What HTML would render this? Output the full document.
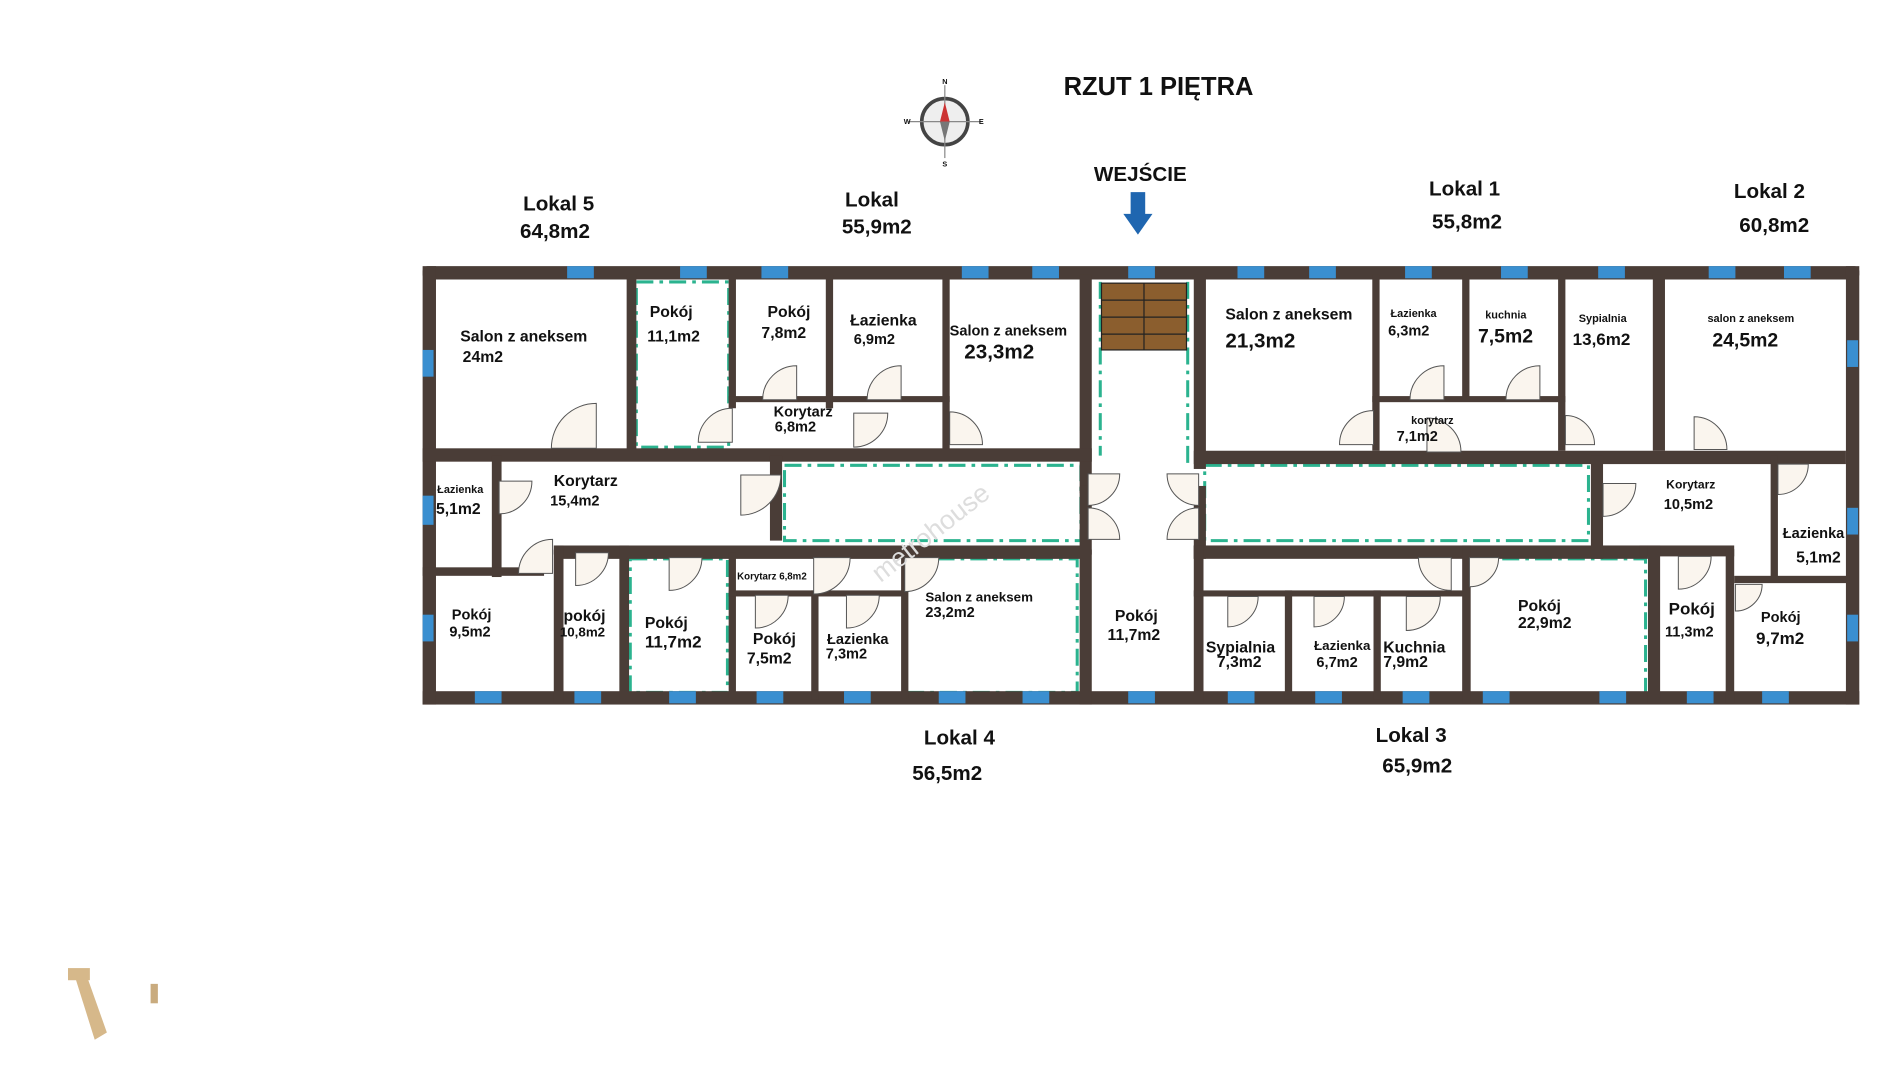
<!DOCTYPE html>
<html><head><meta charset="utf-8"><style>
html,body{margin:0;padding:0;background:#fff;}
svg{display:block;}
text{font-family:"Liberation Sans",sans-serif;font-weight:bold;fill:#111;}
</style></head><body>
<svg width="1886" height="1080" viewBox="0 0 1553 889" xmlns="http://www.w3.org/2000/svg">
<defs>
<path id="d" d="M0 0 V-1 A1 1 0 0 1 1 0 Z" fill="#faf5ee" stroke="#555" stroke-width="1" vector-effect="non-scaling-stroke"/>
</defs>
<text x="954" y="78" font-size="21" text-anchor="middle">RZUT 1 PIĘTRA</text>
<g transform="translate(778,100)">
<circle r="19" fill="#eee" stroke="#444" stroke-width="3"/>
<line x1="0" y1="-30" x2="0" y2="30" stroke="#888"/><line x1="-30" y1="0" x2="30" y2="0" stroke="#888"/>
<polygon points="0,-16 -4,0 4,0" fill="#c33"/><polygon points="0,16 -4,0 4,0" fill="#777"/>
<text y="-31" font-size="6" text-anchor="middle">N</text><text y="37" font-size="6" text-anchor="middle">S</text>
<text x="-31" y="2" font-size="6" text-anchor="middle">W</text><text x="30" y="2" font-size="6" text-anchor="middle">E</text>
</g>
<text x="460" y="173" font-size="17" text-anchor="middle">Lokal 5</text>
<text x="457" y="196" font-size="17" text-anchor="middle">64,8m2</text>
<text x="718" y="170" font-size="17" text-anchor="middle">Lokal</text>
<text x="722" y="192" font-size="17" text-anchor="middle">55,9m2</text>
<text x="939" y="149" font-size="17" text-anchor="middle">WEJŚCIE</text>
<polygon points="931,158 943,158 943,176 949,176 937,193 925,176 931,176" fill="#1f66b0"/>
<text x="1206" y="161" font-size="17" text-anchor="middle">Lokal 1</text>
<text x="1208" y="188" font-size="17" text-anchor="middle">55,8m2</text>
<text x="1457" y="163" font-size="17" text-anchor="middle">Lokal 2</text>
<text x="1461" y="191" font-size="17" text-anchor="middle">60,8m2</text>
<text x="790" y="613" font-size="17" text-anchor="middle">Lokal 4</text>
<text x="780" y="642" font-size="17" text-anchor="middle">56,5m2</text>
<text x="1162" y="611" font-size="17" text-anchor="middle">Lokal 3</text>
<text x="1167" y="636" font-size="17" text-anchor="middle">65,9m2</text>

<g fill="none" stroke="#2bb38f" stroke-width="2.5" stroke-dasharray="14,5,3,5">
<rect x="524" y="232" width="76" height="136"/>
<rect x="646" y="383" width="244" height="62"/>
<rect x="992" y="383" width="316" height="62"/>
<polyline points="906,232 906,375"/><polyline points="978,232 978,382"/>
<rect x="519" y="460" width="80" height="110"/>
<rect x="745" y="460" width="142" height="110"/>
<polyline points="1210,460 1355,460 1355,570"/>
</g>
<rect x="907" y="233" width="70" height="55" fill="#8b5e2e" stroke="#222"/>
<g stroke="#222" stroke-width="1"><line x1="942" y1="233" x2="942" y2="288"/><line x1="907" y1="247" x2="977" y2="247"/><line x1="907" y1="261" x2="977" y2="261"/><line x1="907" y1="275" x2="977" y2="275"/></g>

<g fill="#4a3d37">
<rect x="348" y="219" width="1183" height="11" rx="4"/>
<rect x="348" y="569" width="1183" height="11"/>
<rect x="348" y="219" width="11" height="361"/>
<rect x="1520" y="219" width="11" height="361"/>
<rect x="516" y="226" width="8" height="150"/>
<rect x="600" y="226" width="6" height="110"/>
<rect x="680" y="226" width="6" height="110"/>
<rect x="776" y="226" width="6" height="145"/>
<rect x="600" y="326" width="182" height="5"/>
<rect x="889" y="226" width="10" height="180"/>
<rect x="983" y="226" width="10" height="160"/>
<rect x="1130" y="226" width="6" height="145"/>
<rect x="1204" y="226" width="6" height="104"/>
<rect x="1283" y="226" width="6" height="145"/>
<rect x="1361" y="226" width="10" height="145"/>
<rect x="1130" y="326" width="159" height="5"/>
<rect x="348" y="369" width="551" height="11"/>
<rect x="983" y="371" width="537" height="11"/>
<rect x="405" y="375" width="8" height="100"/>
<rect x="348" y="467" width="100" height="7"/>
<rect x="634" y="375" width="10" height="70"/>
<rect x="456" y="449" width="443" height="11" rx="4"/>
<rect x="889" y="400" width="10" height="180"/>
<rect x="983" y="400" width="10" height="60"/>
<rect x="983" y="449" width="374" height="11"/>
<rect x="1310" y="375" width="10" height="85"/>
<rect x="1350" y="449" width="78" height="9"/>
<rect x="1458" y="375" width="6" height="100"/>
<rect x="1428" y="474" width="95" height="6"/>
<rect x="456" y="449" width="8" height="130"/>
<rect x="510" y="449" width="8" height="130"/>
<rect x="600" y="455" width="6" height="120"/>
<rect x="600" y="486" width="145" height="5"/>
<rect x="668" y="486" width="6" height="90"/>
<rect x="742" y="455" width="6" height="120"/>
<rect x="983" y="449" width="8" height="130"/>
<rect x="983" y="486" width="225" height="5"/>
<rect x="1058" y="486" width="6" height="90"/>
<rect x="1131" y="486" width="6" height="90"/>
<rect x="1204" y="449" width="7" height="130"/>
<rect x="1357" y="449" width="10" height="130"/>
<rect x="1421" y="452" width="7" height="127"/>
</g>

<g fill="#3a8fd0">
<rect x="467" y="219" width="22" height="10"/><rect x="560" y="219" width="22" height="10"/>
<rect x="627" y="219" width="22" height="10"/><rect x="792" y="219" width="22" height="10"/>
<rect x="850" y="219" width="22" height="10"/><rect x="929" y="219" width="22" height="10"/>
<rect x="1019" y="219" width="22" height="10"/><rect x="1078" y="219" width="22" height="10"/>
<rect x="1157" y="219" width="22" height="10"/><rect x="1236" y="219" width="22" height="10"/>
<rect x="1316" y="219" width="22" height="10"/><rect x="1407" y="219" width="22" height="10"/>
<rect x="1469" y="219" width="22" height="10"/>
<rect x="391" y="569" width="22" height="10"/><rect x="473" y="569" width="22" height="10"/>
<rect x="551" y="569" width="22" height="10"/><rect x="623" y="569" width="22" height="10"/>
<rect x="695" y="569" width="22" height="10"/><rect x="773" y="569" width="22" height="10"/>
<rect x="842" y="569" width="22" height="10"/><rect x="929" y="569" width="22" height="10"/>
<rect x="1011" y="569" width="22" height="10"/><rect x="1083" y="569" width="22" height="10"/>
<rect x="1155" y="569" width="22" height="10"/><rect x="1221" y="569" width="22" height="10"/>
<rect x="1317" y="569" width="22" height="10"/><rect x="1389" y="569" width="22" height="10"/>
<rect x="1451" y="569" width="22" height="10"/>
<rect x="348" y="288" width="9" height="22"/><rect x="348" y="408" width="9" height="24"/>
<rect x="348" y="506" width="9" height="22"/>
<rect x="1521" y="280" width="9" height="22"/><rect x="1521" y="418" width="9" height="22"/>
<rect x="1521" y="506" width="9" height="22"/>
</g>

<use href="#d" transform="translate(491,369) scale(-37,37)"/>
<use href="#d" transform="translate(603,364) scale(-28,28)"/>
<use href="#d" transform="translate(656,329) scale(-28,28)"/>
<use href="#d" transform="translate(742,329) scale(-28,28)"/>
<use href="#d" transform="translate(703,340) scale(28,-28)"/>
<use href="#d" transform="translate(782,366) scale(27,27)"/>
<use href="#d" transform="translate(1131,366) scale(-28,28)"/>
<use href="#d" transform="translate(1189,329) scale(-28,28)"/>
<use href="#d" transform="translate(1268,329) scale(-28,28)"/>
<use href="#d" transform="translate(1175,372) scale(28,28)"/>
<use href="#d" transform="translate(1289,366) scale(24,24)"/>
<use href="#d" transform="translate(1395,370) scale(27,27)"/>
<use href="#d" transform="translate(411,396) scale(27,-27)"/>
<use href="#d" transform="translate(610,391) scale(33,-33)"/>
<use href="#d" transform="translate(1320,398) scale(27,-27)"/>
<use href="#d" transform="translate(1464,382) scale(25,-25)"/>
<use href="#d" transform="translate(455,472) scale(-28,28)"/>
<use href="#d" transform="translate(474,455) scale(27,-27)"/>
<use href="#d" transform="translate(551,459) scale(27,-27)"/>
<use href="#d" transform="translate(622,490) scale(27,-27)"/>
<use href="#d" transform="translate(670,459) scale(30,-30)"/>
<use href="#d" transform="translate(697,490) scale(27,-27)"/>
<use href="#d" transform="translate(745,459) scale(28,-28)"/>
<use href="#d" transform="translate(1011,491) scale(25,-25)"/>
<use href="#d" transform="translate(1082,491) scale(25,-25)"/>
<use href="#d" transform="translate(1158,491) scale(28,-28)"/>
<use href="#d" transform="translate(1195,459) scale(-27,-27)"/>
<use href="#d" transform="translate(1210,459) scale(24,-24)"/>
<use href="#d" transform="translate(1382,458) scale(27,-27)"/>
<use href="#d" transform="translate(1429,481) scale(22,-22)"/>
<use href="#d" transform="translate(896,390) scale(26,-26)"/>
<use href="#d" transform="translate(896,444) scale(26,26)"/>
<use href="#d" transform="translate(987,390) scale(-26,-26)"/>
<use href="#d" transform="translate(987,444) scale(-26,26)"/>

<g font-size="13">
<text x="379" y="281">Salon z aneksem</text><text x="381" y="298">24m2</text>
<text x="535" y="261">Pokój</text><text x="533" y="281">11,1m2</text>
<text x="632" y="261">Pokój</text><text x="627" y="278">7,8m2</text>
<text x="700" y="268">Łazienka</text><text x="703" y="283" font-size="12">6,9m2</text>
<text x="782" y="276" font-size="12">Salon z aneksem</text><text x="794" y="295" font-size="17">23,3m2</text>
<text x="637" y="343" font-size="12">Korytarz</text><text x="638" y="355" font-size="12">6,8m2</text>
<text x="1009" y="263">Salon z aneksem</text><text x="1009" y="286" font-size="17">21,3m2</text>
<text x="1145" y="261" font-size="9">Łazienka</text><text x="1143" y="276" font-size="12">6,3m2</text>
<text x="1223" y="262" font-size="9">kuchnia</text><text x="1217" y="282" font-size="16">7,5m2</text>
<text x="1300" y="265" font-size="9">Sypialnia</text><text x="1295" y="284" font-size="14">13,6m2</text>
<text x="1406" y="265" font-size="9">salon z aneksem</text><text x="1410" y="285" font-size="16">24,5m2</text>
<text x="1162" y="349" font-size="9">korytarz</text><text x="1150" y="363" font-size="12">7,1m2</text>
<text x="360" y="406" font-size="9">Łazienka</text><text x="359" y="423">5,1m2</text>
<text x="456" y="400">Korytarz</text><text x="453" y="416" font-size="12">15,4m2</text>
<text x="1372" y="402" font-size="10">Korytarz</text><text x="1370" y="419" font-size="12">10,5m2</text>
<text x="1468" y="443" font-size="12">Łazienka</text><text x="1479" y="463">5,1m2</text>
<text x="372" y="510" font-size="12">Pokój</text><text x="370" y="524" font-size="12">9,5m2</text>
<text x="464" y="511">pokój</text><text x="461" y="524" font-size="11">10,8m2</text>
<text x="531" y="517">Pokój</text><text x="531" y="533" font-size="14">11,7m2</text>
<text x="607" y="477" font-size="8">Korytarz 6,8m2</text>
<text x="620" y="530">Pokój</text><text x="615" y="546">7,5m2</text>
<text x="681" y="530" font-size="12">Łazienka</text><text x="680" y="542" font-size="12">7,3m2</text>
<text x="762" y="495" font-size="11">Salon z aneksem</text><text x="762" y="508" font-size="12">23,2m2</text>
<text x="918" y="511">Pokój</text><text x="912" y="527">11,7m2</text>
<text x="993" y="537">Sypialnia</text><text x="1002" y="549">7,3m2</text>
<text x="1082" y="535" font-size="11">Łazienka</text><text x="1084" y="549" font-size="12">6,7m2</text>
<text x="1139" y="537">Kuchnia</text><text x="1139" y="549">7,9m2</text>
<text x="1250" y="503">Pokój</text><text x="1250" y="517">22,9m2</text>
<text x="1374" y="506" font-size="14">Pokój</text><text x="1371" y="524" font-size="12">11,3m2</text>
<text x="1450" y="512" font-size="12">Pokój</text><text x="1446" y="530" font-size="14">9,7m2</text>
</g>
<text x="725" y="480" font-size="22" style="fill:#ddd;font-weight:normal" transform="rotate(-38 725 480)">metrohouse</text>
<rect x="56" y="797" width="18" height="10" fill="#d6b88a"/>
<polygon points="62,805 72,805 88,850 78,856" fill="#d6b88a"/>
<rect x="124" y="810" width="6" height="16" fill="#c9ab7e"/>
</svg>
</body></html>
